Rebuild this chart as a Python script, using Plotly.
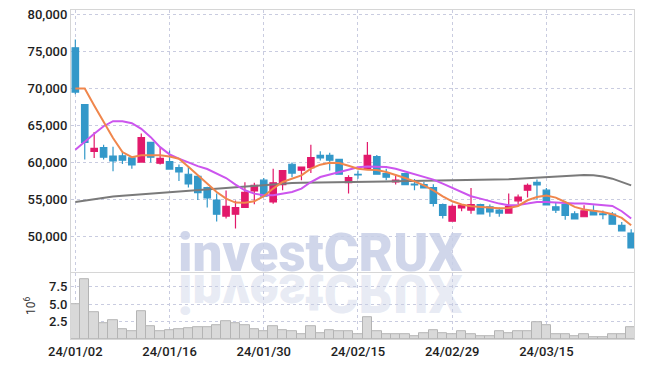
import plotly.graph_objects as go

dates = [
    "2024-01-02","2024-01-03","2024-01-04","2024-01-05","2024-01-08","2024-01-09","2024-01-10",
    "2024-01-11","2024-01-12","2024-01-15","2024-01-16","2024-01-17","2024-01-18","2024-01-19",
    "2024-01-22","2024-01-23","2024-01-24","2024-01-25","2024-01-26","2024-01-29","2024-01-30",
    "2024-01-31","2024-02-01","2024-02-02","2024-02-05","2024-02-06","2024-02-07","2024-02-08",
    "2024-02-13","2024-02-14","2024-02-15","2024-02-16","2024-02-19","2024-02-20","2024-02-21",
    "2024-02-22","2024-02-23","2024-02-26","2024-02-27","2024-02-28","2024-02-29","2024-03-04",
    "2024-03-05","2024-03-06","2024-03-07","2024-03-08","2024-03-11","2024-03-12","2024-03-13",
    "2024-03-14","2024-03-15","2024-03-18","2024-03-19","2024-03-20","2024-03-21","2024-03-22",
    "2024-03-25","2024-03-26","2024-03-27","2024-03-28",
]

open_ = [75500, 67800, 61500, 62000, 60850, 60900, 60600, 60050, 62700, 59900,
         60100, 59300, 58400, 58100, 56600, 54900, 52750, 53000, 53900, 56150,
         57600, 54650, 57000, 59750, 58950, 59300, 60950, 60950, 60400, 57250,
         58400, 59150, 60800, 58500, 57350, 58500, 57050, 57000, 56600, 54300,
         52050, 53850, 53550, 54300, 54000, 53550, 53150, 54800, 56250, 57300,
         56250, 54000, 54300, 53050, 52650, 53400, 53050, 53000, 51500, 50450]
high = [76600, 67800, 64100, 62400, 62100, 61500, 60700, 63900, 62700, 62000,
        61600, 59700, 59400, 58200, 56700, 55800, 56200, 54850, 57300, 57250,
        57900, 59150, 58950, 60000, 59400, 62400, 61500, 61300, 60450, 58250,
        58900, 62750, 61000, 59150, 58400, 58600, 57750, 57350, 57050, 54450,
        54300, 54300, 56550, 54400, 54300, 53900, 55800, 55650, 57150, 57700,
        56550, 54550, 54350, 53400, 54200, 54200, 53500, 53300, 51950, 50950]
low = [69200, 60400, 60600, 60400, 58800, 59800, 59150, 60000, 60000, 59700,
       59000, 57500, 56600, 54900, 53900, 52000, 52400, 51050, 53850, 54350,
       55300, 54400, 56250, 58000, 57600, 58550, 60250, 58900, 58350, 55800,
       57800, 59100, 58400, 57600, 57000, 57000, 56250, 56500, 54050, 52400,
       52000, 53400, 53050, 53000, 52650, 52650, 53100, 54350, 55250, 54950,
       54200, 53150, 52250, 52300, 52600, 52850, 52300, 51600, 50700, 48400]
close = [69500, 62700, 61900, 60700, 60200, 60300, 59650, 63350, 60700, 60550,
         59100, 58700, 57100, 55900, 55200, 53000, 54050, 53900, 55950, 56900,
         55450, 57250, 58900, 58550, 59350, 60650, 60600, 60300, 58400, 57950,
         58300, 60950, 58400, 58000, 57600, 57000, 56950, 56550, 54450, 52850,
         54050, 54200, 54300, 53050, 53300, 53150, 54050, 55300, 56900, 56950,
         54250, 53550, 52850, 52350, 53450, 52900, 52950, 51650, 50750, 48450]

ma5 = [70000, 70000, 67700, 65500, 63300, 61400, 60700, 60950, 60950, 60950,
       60800, 60500, 59400, 58250, 57130, 56000, 55100, 54570, 54530, 54740,
       55420, 56460, 57350, 57800, 58250, 59150, 59690, 59960, 59920, 59550,
       59150, 59010, 58970, 58700, 58340, 57890, 57440, 56900, 56230, 55420,
       54740, 54300, 54070, 54000, 53840, 53800, 53840, 54110, 54880, 55320,
       55510, 55240, 54650, 53980, 53630, 53440, 53300, 53000, 52500, 51510]
ma20 = [61700, 62830, 63870, 64890, 65570, 65570, 65300, 64540, 63410, 62060,
        61080, 60500, 59960, 59500, 59100, 58480, 57890, 57000, 56230, 55780,
        55550, 55550, 55780, 56000, 56460, 57350, 58020, 58340, 58700, 58950,
        59330, 59460, 59460, 59370, 59150, 58790, 58480, 58110, 57670, 57130,
        56590, 56000, 55420, 55100, 54740, 54430, 54200, 54250, 54430, 54650,
        54650, 54570, 54530, 54430, 54430, 54340, 54300, 54110, 53400, 52410]
ma_long = [54650, 54850, 55050, 55250, 55400, 55500, 55600, 55700, 55800, 55900,
           56000, 56100, 56200, 56300, 56400, 56500, 56600, 56700, 56800, 56900,
           57000, 57100, 57150, 57200, 57250, 57280, 57300, 57320, 57340, 57350,
           57370, 57390, 57400, 57420, 57440, 57460, 57480, 57500, 57510, 57520,
           57530, 57540, 57560, 57580, 57620, 57660, 57720, 57800, 57880, 57960,
           58050, 58130, 58200, 58260, 58300, 58250, 58100, 57800, 57400, 56900]

volume_m = [5.0, 8.6, 3.8, 2.25, 2.65, 1.35, 1.05, 4.0, 1.8, 1.05,
            1.2, 1.35, 1.5, 1.75, 1.75, 2.05, 2.5, 2.2, 2.05, 1.35,
            1.05, 1.9, 1.2, 1.05, 0.75, 1.9, 0.9, 1.2, 1.05, 1.05,
            0.7, 3.2, 1.05, 0.65, 0.65, 0.65, 0.4, 0.9, 1.2, 0.9,
            0.65, 1.05, 0.75, 0.45, 0.45, 1.05, 0.8, 1.05, 1.05, 2.4,
            1.95, 0.65, 0.65, 0.45, 0.65, 0.3, 0.3, 0.75, 0.75, 1.75]

tick_dates = ["2024-01-02", "2024-01-16", "2024-01-30", "2024-02-15", "2024-02-29", "2024-03-15"]
tick_labels = ["24/01/02", "24/01/16", "24/01/30", "24/02/15", "24/02/29", "24/03/15"]
price_ticks = [50000, 55000, 60000, 65000, 70000, 75000, 80000]
vol_ticks = [2.5, 5.0, 7.5]

UP = "#e2196b"
DOWN = "#3398c9"
GRID = "#c9cce0"
FONT = "Roboto"
TICKFONT = dict(family=FONT, size=13, color="#1e1e1e", weight=500)

fig = go.Figure()
fig.add_trace(go.Candlestick(
    x=dates, open=open_, high=high, low=low, close=close,
    increasing=dict(line=dict(color=UP, width=1.2), fillcolor=UP),
    decreasing=dict(line=dict(color=DOWN, width=1.2), fillcolor=DOWN),
    whiskerwidth=0, xaxis="x", yaxis="y", hoverinfo="skip",
))
fig.add_trace(go.Scatter(x=dates, y=ma_long, mode="lines",
                         line=dict(color="#7a7a7a", width=2), xaxis="x", yaxis="y"))
fig.add_trace(go.Scatter(x=dates, y=ma20, mode="lines",
                         line=dict(color="#cc55ee", width=2), xaxis="x", yaxis="y"))
fig.add_trace(go.Scatter(x=dates, y=ma5, mode="lines",
                         line=dict(color="#f0864c", width=2), xaxis="x", yaxis="y"))
fig.add_trace(go.Bar(x=dates, y=volume_m, width=1,
                     marker=dict(color="#d9d9d9", line=dict(color="#b4b4b4", width=1)),
                     xaxis="x2", yaxis="y2"))

xr = [-0.46, 59.3]
common_x = dict(type="category", range=xr, showgrid=True, gridcolor=GRID, griddash="dot",
                gridwidth=1, tickvals=tick_dates, ticktext=tick_labels, automargin=False,
                showline=True, linecolor="#d6d6d6", mirror=True, ticks="",
                zeroline=False, rangeslider=dict(visible=False))

fig.update_layout(
    width=645, height=367,
    margin=dict(l=71, r=11, t=10, b=28),
    paper_bgcolor="white", plot_bgcolor="white",
    showlegend=False, hovermode=False,
    font=dict(family=FONT, size=13, color="#333333"),
    bargap=0, boxgap=0.05, boxgroupgap=0.28,
    xaxis=dict(**common_x, anchor="y", showticklabels=False),
    xaxis2=dict(**common_x, anchor="y2", matches="x", showticklabels=True,
                tickfont=TICKFONT),
    yaxis=dict(domain=[0.204, 1.0], range=[45200, 80600], tickvals=price_ticks,
               tickformat=",d", showgrid=True, gridcolor=GRID, griddash="dot",
               showline=True, linecolor="#d6d6d6", mirror=True, zeroline=False,
               automargin=False, ticks="", tickfont=TICKFONT),
    yaxis2=dict(domain=[0.0, 0.2], range=[0, 9.45], tickvals=vol_ticks, tickformat=".1f",
                showgrid=True, gridcolor=GRID, griddash="dot",
                showline=True, linecolor="#d6d6d6", mirror=True, zeroline=False,
                automargin=False, ticks="", tickfont=TICKFONT),
    annotations=[
        dict(text="investCRUX", xref="paper", yref="paper", x=0.442, y=0.161,
             xanchor="center", yanchor="bottom", showarrow=False,
             font=dict(family=FONT, size=53, color="rgba(200,207,230,0.85)", weight=900)),
        dict(text="investCRUX", xref="paper", yref="paper", x=0.442, y=0.240,
             xanchor="center", yanchor="top", showarrow=False,
             font=dict(family=FONT, size=53, color="rgba(200,207,230,0.42)", weight=900)),
        dict(text="10<sup>6</sup>", xref="paper", yref="paper", x=-0.073, y=0.103,
             xanchor="center", yanchor="middle", showarrow=False, textangle=-90,
             font=dict(family=FONT, size=12, color="#333333")),
    ],
)

post = """
document.documentElement.style.margin = '0';
document.body.style.margin = '0';
document.body.style.padding = '0';
var gd = document.getElementById('{plot_id}');
function flipWM(){
  var gs = gd.querySelectorAll('g.annotation');
  gs.forEach(function(g){
    if (g.getAttribute('data-index') === '1') {
      var t = g.querySelector('text');
      if (t) { t.style.transformBox = 'fill-box'; t.style.transformOrigin = 'center'; t.style.transform = 'scaleY(-1)'; }
    }
  });
}
flipWM();
if (gd.on) { gd.on('plotly_afterplot', flipWM); }
"""

fig.write_html("out.html", post_script=post, config={"displayModeBar": False})
